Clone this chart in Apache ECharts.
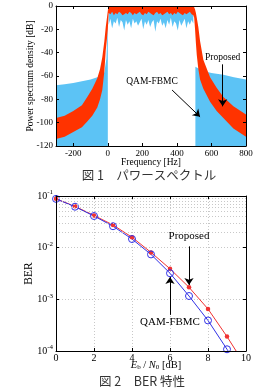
<!DOCTYPE html>
<html>
<head>
<meta charset="utf-8">
<script src="https://cdn.jsdelivr.net/npm/echarts@6/dist/echarts.min.js"></script>
<style>
html, body { margin: 0; padding: 0; background: #fff; }
#chart { width: 257px; height: 391px; }
</style>
</head>
<body>
<div id="chart"></div>
<script>
// ---- fig.1 power spectrum (Hz, dB) ----
const psdXTicks = [-200, 0, 200, 400, 600, 800];

// Proposed: band between lower and upper envelope
const skirtLeftFreq = [-300, -250, -200, -150, -119, -90, -61, -45, -32, -20, -12, -5, 0];
const skirtLeftLower = [-114, -112, -108, -104, -99, -94, -87, -80, -72, -56, -38, -28, -20];
const skirtLeftUpper = [-96, -94, -90, -85, -78, -71, -62, -54, -44, -30, -18, -10, -4];

const bandFreq = [5, 15, 25, 35, 45, 55, 65, 75, 85, 95, 105, 115, 125, 135, 145, 155, 165, 175, 185, 195,
  205, 215, 225, 235, 245, 255, 265, 275, 285, 295, 305, 315, 325, 335, 345, 355, 365, 375, 385, 395,
  405, 415, 425, 435, 445, 455, 465, 475, 485, 495];
const bandRedLower = [-6, -7, -5, -8, -6, -7, -5, -6, -8, -7, -6, -7, -5, -6, -8, -6, -7, -6, -5, -7,
  -8, -6, -7, -5, -6, -7, -8, -6, -5, -7, -6, -8, -7, -6, -5, -7, -6, -8, -6, -7,
  -5, -6, -7, -8, -6, -7, -6, -5, -7, -8];
const bandRedUpper = [0, 0, 0, 0, 0, 0, 0, 0, 0, 0, 0, 0, 0, 0, 0, 0, 0, 0, 0, 0,
  0, 0, 0, 0, 0, 0, 0, 0, 0, 0, 0, 0, 0, 0, 0, 0, 0, 0, 0, 0,
  0, 0, 0, 0, 0, 0, 0, 0, 0, 0];
// QAM-FBMC in band: lower edge of the noisy trace
const bandBlueLower = [-16, -11, -19, -13, -15, -10, -18, -12, -14, -21, -12, -16, -13, -19, -11, -15, -13, -17, -14, -11,
  -20, -13, -16, -12, -18, -14, -12, -22, -13, -15, -11, -17, -14, -19, -12, -16, -10, -18, -13, -15,
  -21, -12, -17, -14, -11, -19, -13, -16, -12, -15];

const skirtRightFreq = [500, 505, 510, 515, 524, 534, 553, 592, 630, 669, 727, 800];
const skirtRightLower = [-10, -20, -32, -42, -54, -63, -71, -82, -90, -96, -105, -112];
const skirtRightUpper = [-1, -3, -6, -10, -18, -30, -46, -61, -70, -78, -86, -93];

// QAM-FBMC out of band: top of the filled noise floor
const qamLeftFreq = [-300, -250, -200, -150, -100, -61, -40, -20, -8, -3, 0];
const qamLeftTop = [-68, -67, -66, -64.5, -63, -61, -59.5, -57, -45, -25, -8];
const qamRightFreq = [507, 530, 560, 600, 669, 730, 800];
const qamRightTop = [-52, -54, -56, -57.5, -59, -61, -63];

// ---- fig.2 BER ----
const ebn0 = [0, 1, 2, 3, 4, 5, 6, 7, 8, 9, 10];
const berProposed = [0.088, 0.063, 0.042, 0.0275, 0.0159, 0.0081, 0.0039, 0.00171, 0.00065, 0.00019, 0.00005];
const berQam = [0.088, 0.062, 0.041, 0.026, 0.0147, 0.0074, 0.0032, 0.00116, 0.00039, 0.000108, 0.00003];
const berDecades = [-4, -3, -2];

const font = "'Liberation Serif','Times New Roman',serif";
const redFill = '#ff3300';
const blueFill = '#5cc3f5';

const redFreq = skirtLeftFreq.concat(bandFreq, skirtRightFreq);
const redLower = skirtLeftLower.concat(bandRedLower, skirtRightLower);
const redUpper = skirtLeftUpper.concat(bandRedUpper, skirtRightUpper);
const floorOf = arr => arr.map(() => -120);
const topOf = arr => arr.map(() => 0);

function bandSeries(freq, lower, upper, color) {
  return {
    type: 'custom', xAxisIndex: 0, yAxisIndex: 0, silent: true, clip: true,
    data: [0],
    renderItem: function (params, api) {
      const pts = [];
      for (let i = 0; i < freq.length; i++) pts.push(api.coord([freq[i], upper[i]]));
      for (let i = freq.length - 1; i >= 0; i--) pts.push(api.coord([freq[i], lower[i]]));
      return { type: 'polygon', shape: { points: pts }, style: { fill: color } };
    }
  };
}

// minor log grid lines 2..9 x 10^k
const minorLines = [];
berDecades.forEach(k => {
  for (let m = 2; m <= 9; m++) minorLines.push({ yAxis: m * Math.pow(10, k) });
});

const tick = { inside: true, length: 3, lineStyle: { color: '#000' } };
const line = { show: true, onZero: false, lineStyle: { color: '#000', width: 1 } };
const lbl = { fontFamily: font, fontSize: 9, color: '#000' };
const gridColor = '#c8c8c8';
const dotted = { show: true, lineStyle: { color: gridColor, type: [1, 2], width: 1 } };
const hidden = { axisLine: { show: false }, axisTick: { show: false }, axisLabel: { show: false } };

const option = {
  animation: false,
  textStyle: { fontFamily: font },
  grid: [
    { left: 56, top: 6, width: 190, height: 140 },
    { left: 56, top: 196, width: 190, height: 155 }
  ],
  xAxis: [
    {
      type: 'value', gridIndex: 0, min: -300, max: 800, position: 'bottom', z: 10,
      axisLine: line, axisTick: Object.assign({ customValues: psdXTicks }, tick),
      axisLabel: Object.assign({ customValues: psdXTicks, margin: 3 }, lbl),
      splitLine: { show: false },
      name: 'Frequency [Hz]', nameLocation: 'middle', nameGap: 11, nameMoveOverlap: false,
      nameTextStyle: { fontFamily: font, fontSize: 9.5, color: '#000' }
    },
    {
      type: 'value', gridIndex: 0, min: -300, max: 800, position: 'top', z: 10,
      axisLine: line, axisTick: Object.assign({ customValues: psdXTicks }, tick),
      axisLabel: { show: false }, splitLine: { show: false }
    },
    {
      type: 'value', gridIndex: 1, min: 0, max: 10, interval: 2, position: 'bottom', z: 10,
      axisLine: line, axisTick: tick,
      axisLabel: Object.assign({}, lbl, { fontSize: 10, margin: 2 }),
      splitLine: { show: false },
      name: '{i|E}{sub|b}{n| / }{i|N}{sub|0}{n| [dB]}', nameLocation: 'middle', nameGap: 8,
      nameMoveOverlap: false,
      nameTextStyle: {
        padding: [0, 0, 0, 10],
        rich: {
          i: { fontFamily: font, fontSize: 10.5, fontStyle: 'italic', color: '#000' },
          n: { fontFamily: font, fontSize: 10.5, color: '#000' },
          sub: { fontFamily: font, fontSize: 7, color: '#000', padding: [5, 0, 0, 0] }
        }
      }
    },
    {
      type: 'value', gridIndex: 1, min: 0, max: 10, interval: 2, position: 'top', z: 10,
      axisLine: line, axisTick: tick, axisLabel: { show: false }, splitLine: { show: false }
    },
    Object.assign({
      type: 'value', gridIndex: 1, min: 0, max: 10, interval: 2, position: 'bottom', z: 0,
      splitLine: dotted
    }, hidden)
  ],
  yAxis: [
    {
      type: 'value', gridIndex: 0, min: -120, max: 0, interval: 20, position: 'left', z: 10,
      axisLine: line, axisTick: tick, axisLabel: Object.assign({ margin: 3 }, lbl),
      splitLine: { show: false },
      name: 'Power spectrum density [dB]', nameLocation: 'middle', nameGap: 21, nameMoveOverlap: false,
      nameTextStyle: { fontFamily: font, fontSize: 9.5, color: '#000' }
    },
    {
      type: 'value', gridIndex: 0, min: -120, max: 0, interval: 20, position: 'right', z: 10,
      axisLine: line, axisTick: tick, axisLabel: { show: false }, splitLine: { show: false }
    },
    {
      type: 'log', logBase: 10, gridIndex: 1, min: 1e-4, max: 1e-1, position: 'left', z: 10,
      axisLine: line, axisTick: tick,
      axisLabel: {
        margin: 3,
        formatter: v => '{b|10}{s|' + Math.round(Math.log10(v)) + '}',
        rich: {
          b: { fontFamily: font, fontSize: 10, color: '#000' },
          s: { fontFamily: font, fontSize: 7, color: '#000', padding: [0, 0, 7, 0] }
        }
      },
      splitLine: { show: false },
      name: 'BER', nameLocation: 'middle', nameGap: 21, nameMoveOverlap: false,
      nameTextStyle: { fontFamily: font, fontSize: 11.5, color: '#000' }
    },
    {
      type: 'log', logBase: 10, gridIndex: 1, min: 1e-4, max: 1e-1, position: 'right', z: 10,
      axisLine: line, axisTick: tick, axisLabel: { show: false }, splitLine: { show: false }
    },
    Object.assign({
      type: 'log', logBase: 10, gridIndex: 1, min: 1e-4, max: 1e-1, position: 'left', z: 0,
      splitLine: dotted
    }, hidden)
  ],
  series: [
    bandSeries(qamLeftFreq, floorOf(qamLeftFreq), qamLeftTop, blueFill),
    bandSeries(qamRightFreq, floorOf(qamRightFreq), qamRightTop, blueFill),
    bandSeries(bandFreq, bandBlueLower, topOf(bandFreq), blueFill),
    bandSeries(redFreq, redLower, redUpper, redFill),
    {
      type: 'line', xAxisIndex: 0, yAxisIndex: 0, data: [], silent: true,
      markLine: {
        silent: true, symbol: ['none', 'arrow'], symbolSize: 7, label: { show: false },
        lineStyle: { color: '#000', width: 1, type: 'solid' },
        data: [
          [{ coord: [665, -50] }, { coord: [665, -86] }],
          [{ coord: [372, -72] }, { coord: [534, -95] }]
        ]
      },
      markPoint: {
        silent: true, symbol: 'rect', symbolSize: 1, itemStyle: { color: 'rgba(0,0,0,0)' },
        label: { show: true, position: 'inside', formatter: '{b}', color: '#000', fontFamily: font, fontSize: 9.5 },
        data: [
          { name: 'Proposed', coord: [665, -44] },
          { name: 'QAM-FBMC', coord: [256, -64.3] }
        ]
      }
    },
    {
      type: 'line', xAxisIndex: 4, yAxisIndex: 4, data: [], silent: true, z: 1,
      markLine: {
        silent: true, symbol: ['none', 'none'], label: { show: false },
        lineStyle: { color: gridColor, type: [1, 2], width: 1 },
        data: minorLines
      }
    },
    {
      name: 'Proposed', type: 'line', xAxisIndex: 2, yAxisIndex: 2,
      data: ebn0.map((x, i) => [x, berProposed[i]]),
      symbol: 'circle', symbolSize: 4.5,
      lineStyle: { color: '#f03232', width: 1 }, itemStyle: { color: '#f03232' }
    },
    {
      name: 'QAM-FBMC', type: 'line', xAxisIndex: 2, yAxisIndex: 2,
      data: ebn0.map((x, i) => [x, berQam[i]]),
      symbol: 'circle', symbolSize: 7,
      lineStyle: { color: '#3232e6', width: 1 },
      itemStyle: { color: 'rgba(0,0,0,0)', borderColor: '#3232e6', borderWidth: 1 }
    },
    {
      type: 'line', xAxisIndex: 2, yAxisIndex: 2, data: [], silent: true,
      markLine: {
        silent: true, symbol: ['none', 'arrow'], symbolSize: 7, label: { show: false },
        lineStyle: { color: '#000', width: 1, type: 'solid' },
        data: [
          [{ coord: [7, 0.0106] }, { coord: [7, 0.0019] }],
          [{ coord: [6, 0.0005] }, { coord: [6, 0.0027] }]
        ]
      },
      markPoint: {
        silent: true, symbol: 'rect', symbolSize: 1, itemStyle: { color: 'rgba(0,0,0,0)' },
        label: { show: true, position: 'inside', formatter: '{b}', color: '#000', fontFamily: font, fontSize: 11 },
        data: [
          { name: 'Proposed', coord: [7, 0.0169] },
          { name: 'QAM-FBMC', coord: [6, 0.000356] }
        ]
      }
    }
  ],
  graphic: [
    {
      type: 'text', x: 149, y: 175,
      style: { text: '図 1　パワースペクトル', align: 'center', verticalAlign: 'middle',
        fontFamily: 'Noto Sans CJK JP', fontSize: 12.5, fill: '#333' }
    },
    {
      type: 'text', x: 142, y: 381,
      style: { text: '図 2　BER 特性', align: 'center', verticalAlign: 'middle',
        fontFamily: 'Noto Sans CJK JP', fontSize: 12.5, fill: '#333' }
    }
  ]
};

const chart = echarts.init(document.getElementById('chart'));
chart.setOption(option);
</script>
</body>
</html>
